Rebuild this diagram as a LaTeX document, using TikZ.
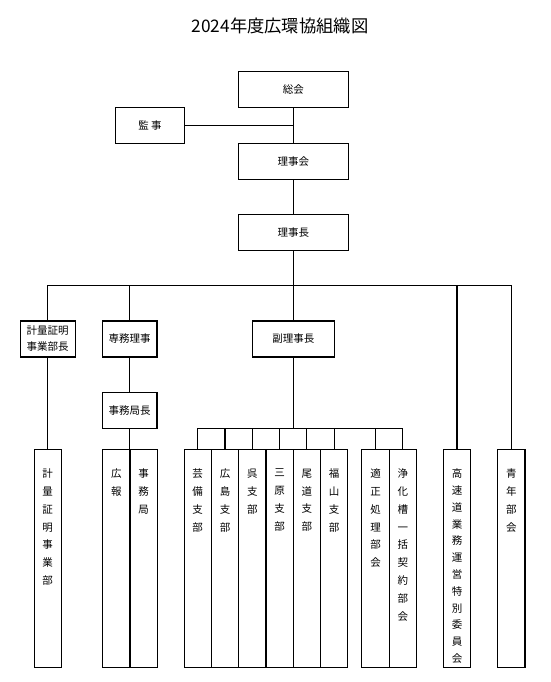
\documentclass[tikz,border=0pt]{standalone}
\usepackage{fontspec}
\setmainfont{Noto Sans CJK JP}
\begin{document}
\begin{tikzpicture}[x=1pt,y=-1pt,
  box/.style={draw,line width=1.1pt,inner sep=0pt,font=\fontsize{10.5}{16}\selectfont,align=center},
  topbox/.style={box,minimum width=109.5pt,minimum height=36pt},
  midbox/.style={box,minimum width=54.5pt,minimum height=36pt},
  vbox/.style={draw,line width=1.1pt,inner sep=0pt,minimum width=27.3pt,minimum height=218.4pt},
  vt/.style={inner sep=0pt,align=center,anchor=north,yshift=-20pt,font=\fontsize{10.5}{17.8}\selectfont},
  conn/.style={line width=1.1pt}]
\useasboundingbox (0,0) rectangle (550,682);
\fill[white] (0,0) rectangle (550,682);
\node[font=\fontsize{17.3}{20}\selectfont] (title) at (280,26) {2024年度広環協組織図};
% upper boxes
\node[topbox] (soukai) at (293.3,89.7) {総会};
\node[box,minimum width=68.4pt,minimum height=36pt] (kanji) at (150,125.3) {監 事};
\node[topbox] (rijikai) at (293.3,161.2) {理事会};
\node[topbox] (rijicho) at (293.3,232.2) {理事長};
\node[box,minimum width=55pt,minimum height=36pt] (keicho) at (47.7,339) {計量証明\\事業部長};
\node[midbox] (senmu) at (129.7,339) {専務理事};
\node[box,minimum width=81.7pt,minimum height=36pt] (fukuri) at (293.3,339) {副理事長};
\node[midbox] (jimucho) at (129.7,410.3) {事務局長};
% bottom boxes
\node[vbox] (b1) at (47.7,558.5) {};
\node[vbox] (b2) at (116.3,558.5) {};
\node[vbox] (b3) at (143.6,558.5) {};
\node[vbox] (s1) at (197.7,558.5) {};
\node[vbox] (s2) at (225.0,558.5) {};
\node[vbox] (s3) at (252.3,558.5) {};
\node[vbox] (s4) at (279.6,558.5) {};
\node[vbox] (s5) at (306.9,558.5) {};
\node[vbox] (s6) at (334.2,558.5) {};
\node[vbox] (k1) at (375.5,558.5) {};
\node[vbox] (k2) at (402.8,558.5) {};
\node[vbox] (kosoku) at (457.0,558.5) {};
\node[vbox] (seinen) at (511.3,558.5) {};
% vertical texts
\node[vt] (tb1) at (b1.north) {計\\量\\証\\明\\事\\業\\部};
\node[vt] (tb2) at (b2.north) {広\\報};
\node[vt] (tb3) at (b3.north) {事\\務\\局};
\node[vt] (ts1) at (s1.north) {芸\\備\\支\\部};
\node[vt] (ts2) at (s2.north) {広\\島\\支\\部};
\node[vt] (ts3) at (s3.north) {呉\\支\\部};
\node[vt] (ts4) at (s4.north) {三\\原\\支\\部};
\node[vt] (ts5) at (s5.north) {尾\\道\\支\\部};
\node[vt] (ts6) at (s6.north) {福\\山\\支\\部};
\node[vt] (tk1) at (k1.north) {適\\正\\処\\理\\部\\会};
\node[vt] (tk2) at (k2.north) {浄\\化\\槽\\一\\括\\契\\約\\部\\会};
\node[vt,font=\fontsize{10.5}{16.8}\selectfont] (tkosoku) at (kosoku.north) {高\\速\\道\\業\\務\\運\\営\\特\\別\\委\\員\\会};
\node[vt] (tseinen) at (seinen.north) {青\\年\\部\\会};
% connectors
\coordinate (bus) at (0,285.7);
\coordinate (bus2) at (0,428.3);
\draw[conn] (soukai.south) -- (rijikai.north);
\draw[conn] (kanji.east) -- (kanji.east -| soukai.south);
\draw[conn] (rijikai.south) -- (rijicho.north);
\draw[conn] (rijicho.south) -- (fukuri.north);
\draw[conn] (keicho.north) |- (bus -| seinen.north) -- (seinen.north);
\draw[conn] (senmu.north) -- (senmu.north |- bus);
\draw[conn] (kosoku.north) -- (kosoku.north |- bus);
\draw[conn] (keicho.south) -- (b1.north);
\draw[conn] (senmu.south) -- (jimucho.north);
\draw[conn] (jimucho.south) -- (jimucho.south |- b2.north);
\draw[conn] (fukuri.south) -- (fukuri.south |- bus2);
\draw[conn] (s1.north) |- (bus2 -| k2.north) -- (k2.north);
\foreach \n in {s2,s3,s4,s5,s6,k1} \draw[conn] (\n.north) -- (\n.north |- bus2);
\end{tikzpicture}
\end{document}
